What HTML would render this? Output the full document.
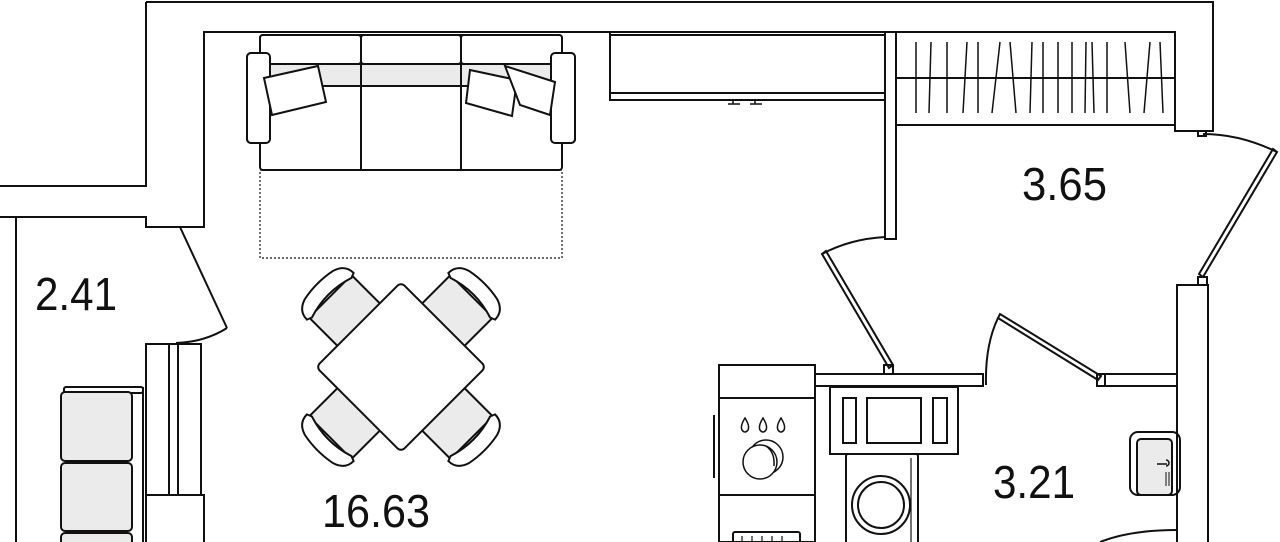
<!DOCTYPE html>
<html><head><style>
html,body{margin:0;padding:0;background:#fff;}
svg{display:block;}
text{font-family:"Liberation Sans",sans-serif;fill:#111;}
</style></head><body>
<svg width="1280" height="542" viewBox="0 0 1280 542" xmlns="http://www.w3.org/2000/svg">
<g fill="none" stroke="#111" stroke-width="2">
<!-- outer walls -->
<path d="M146 2 H1213 V131 H1175 V125"/>
<path d="M146 2 V186 H0"/>
<path d="M0 217 H146 V227 H204 V32 H1175 V125"/>
<line x1="16" y1="217" x2="16" y2="542"/>
<!-- left lower wall piece -->
<path d="M146 542 V344 H201 V495"/>
<line x1="169" y1="344" x2="169" y2="495"/>
<line x1="178" y1="344" x2="178" y2="495"/>
<path d="M146 495 H204 V542"/>
<!-- door left -->
<path d="M180 227 L227 328"/>
<path d="M227 328 Q205 342 176 343"/>
<!-- small sofa left -->
<rect x="64" y="387" width="79" height="6" rx="2"/>
<line x1="143" y1="387" x2="143" y2="542"/>
<rect x="61" y="392" width="71" height="69" rx="4" fill="#ebebeb"/>
<rect x="61" y="463" width="71" height="68" rx="4" fill="#ebebeb"/>
<rect x="61" y="533" width="71" height="30" rx="4" fill="#ebebeb"/>
<!-- big sofa -->
<rect x="247" y="53" width="23" height="90" rx="4"/>
<rect x="551" y="53" width="24" height="90" rx="4"/>
<rect x="260" y="35" width="302" height="135" rx="3" fill="#fff"/>
<rect x="260" y="64" width="302" height="22" fill="#ebebeb"/>
<line x1="260" y1="64" x2="562" y2="64"/>
<line x1="260" y1="86" x2="562" y2="86"/>
<rect x="260" y="35" width="101" height="29" rx="3" fill="#fff"/>
<rect x="361" y="35" width="100" height="29" rx="3" fill="#fff"/>
<rect x="461" y="35" width="101" height="29" rx="3" fill="#fff"/>
<line x1="361" y1="64" x2="361" y2="170"/>
<line x1="461" y1="64" x2="461" y2="170"/>
<rect x="247" y="53" width="23" height="90" rx="4" fill="#fff"/>
<rect x="551" y="53" width="24" height="90" rx="4" fill="#fff"/>
<path d="M264 78 L318 66 L326 102 L272 115 Z" fill="#fff"/>
<path d="M470 70 L517 80 L512 116 L466 103 Z" fill="#fff"/>
<path d="M505 66 L555 82 L550 115 L520 105 Z" fill="#fff"/>
<rect x="260" y="170" width="302" height="88" stroke-dasharray="2 2" stroke-width="1.2"/>
<!-- table & chairs -->
<g transform="translate(401,367) rotate(45)">
<g id="ch">
<rect x="-100" y="-30" width="45" height="60" fill="#ebebeb"/>
<path d="M-100 -33 Q-112 -33 -116 -20 Q-120 0 -116 20 Q-112 33 -100 33 L-98 28 Q-107 0 -98 -28 Z" fill="#fff"/>
</g>
<use href="#ch" transform="rotate(90)"/>
<use href="#ch" transform="rotate(180)"/>
<use href="#ch" transform="rotate(270)"/>
<rect x="-60" y="-60" width="120" height="120" rx="5" fill="#fff"/>
</g>
<!-- TV console -->
<path d="M610 35 H885 M610 32 V100 H885 M610 93 H885"/>
<path d="M733 100 V104 M728 104 H740 M755 100 V104 M750 104 H762" stroke-width="1.5"/>
<!-- partition -->
<rect x="885" y="32" width="11" height="207"/>
<!-- wardrobe -->
<rect x="896" y="32" width="279" height="93"/>
<line x1="896" y1="78" x2="1175" y2="78"/>
<g stroke-width="1.5">
<path d="M916 42 V113 M929 113 L931 42 M947 42 V113 M963 113 L967 42 M978 42 V113 M992 113 L1000 42 M1010 42 L1016 113 M1030 113 L1032 42 M1043 42 V113 M1058 113 V42 M1072 42 V113 M1085 113 L1086 42 M1092 42 L1094 113 M1107 113 V42 M1125 42 L1130 113 M1144 113 L1150 42 M1160 42 L1163 113"/>
</g>
<!-- right door -->
<path d="M1198 131 V136 H1206 V131"/>
<path d="M1203 277 L1277 152 L1273 149 L1199 274 Z"/>
<path d="M1277 152 Q1240 134 1203 134"/>
<rect x="1198" y="277" width="9" height="8"/>
<!-- right wall lower -->
<path d="M1177 542 V285 H1208 V542"/>
<!-- middle door -->
<path d="M889 368 L822 254 L826 251 L893 365 Z"/>
<path d="M822 254 Q850 239 885 237"/>
<rect x="884" y="365" width="9" height="9"/>
<!-- bath wall -->
<path d="M815 374 H983 V386 H815"/>
<path d="M1105 374 H1177 M1105 386 H1177 M1105 374 V386"/>
<rect x="1097" y="374" width="8" height="12"/>
<!-- bath door -->
<path d="M1098 380 L998 318 L1000 314 L1101 376 Z"/>
<path d="M998 318 Q985 345 986 385"/>
<!-- stove -->
<rect x="719" y="365" width="96" height="177"/>
<line x1="719" y1="398" x2="815" y2="398"/>
<line x1="719" y1="495" x2="815" y2="495"/>
<line x1="714" y1="415" x2="714" y2="478"/>
<g stroke-width="1.5">
<path d="M745 418 Q740 426 742 430 Q745 434 748 430 Q750 426 745 418Z"/>
<path d="M763 418 Q758 426 760 430 Q763 434 766 430 Q768 426 763 418Z"/>
<path d="M781 418 Q776 426 778 430 Q781 434 784 430 Q786 426 781 418Z"/>
<circle cx="766" cy="457" r="17"/>
<circle cx="760" cy="462" r="17" fill="#fff"/>
<path d="M766 446 Q775 452 774 466"/>
</g>
<rect x="733" y="532" width="67" height="14" rx="2"/>
<path d="M742 536 V542 M752 536 V542 M762 536 V542 M772 536 V542 M782 536 V542" stroke-width="1.2"/>
<!-- vanity -->
<rect x="830" y="387" width="128" height="67"/>
<rect x="843" y="398" width="13" height="45"/>
<rect x="867" y="398" width="54" height="45"/>
<rect x="933" y="398" width="14" height="45"/>
<!-- washing machine -->
<rect x="846" y="454" width="72" height="95" rx="2"/>
<line x1="911" y1="458" x2="911" y2="542" stroke-width="1.2"/>
<circle cx="881" cy="505" r="29"/>
<circle cx="881" cy="505" r="23"/>
<!-- wc sink -->
<rect x="1130" y="432" width="50" height="63" rx="8"/>
<rect x="1137" y="439" width="35" height="56" rx="4" fill="#ebebeb"/>
<path d="M1157 464 H1167 M1166 460 A3 3 0 1 1 1166 466" stroke-width="1.5"/>
<path d="M1166 472 V486 M1169 472 V486" stroke-width="1"/>
<path d="M1100 542 Q1130 530 1177 530"/>
</g>
<g font-size="46">
<text x="35" y="310" textLength="82" lengthAdjust="spacingAndGlyphs">2.41</text>
<text x="322" y="527" textLength="108" lengthAdjust="spacingAndGlyphs">16.63</text>
<text x="1022" y="200" textLength="85" lengthAdjust="spacingAndGlyphs">3.65</text>
<text x="993" y="498" textLength="82" lengthAdjust="spacingAndGlyphs">3.21</text>
</g>
</svg>
</body></html>
